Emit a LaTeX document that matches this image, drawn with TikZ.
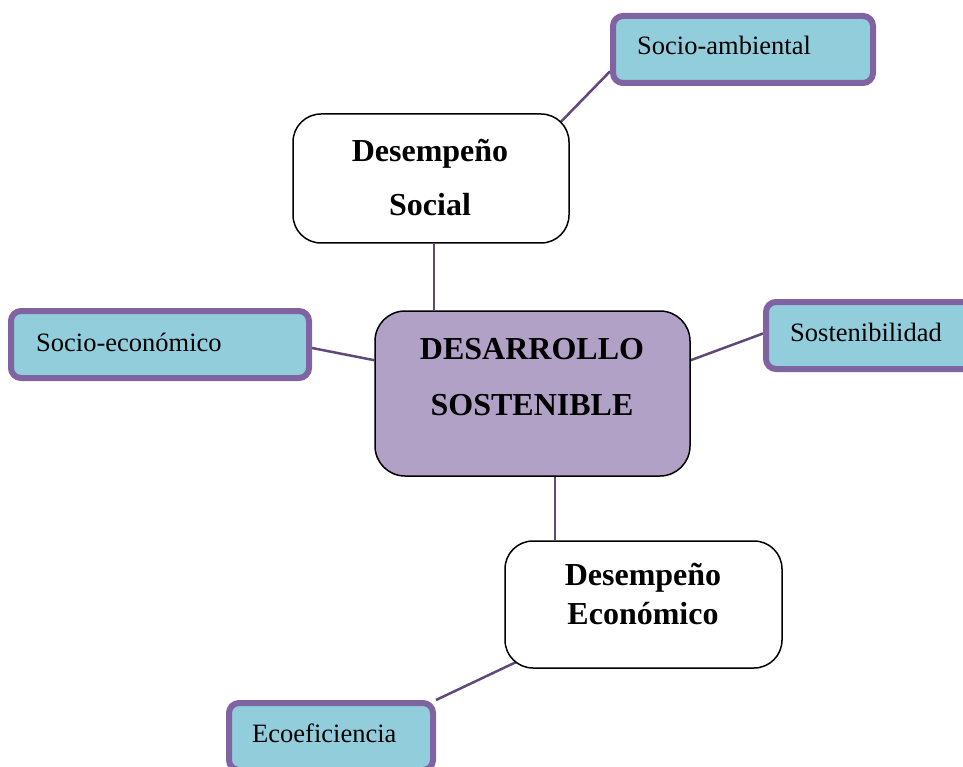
\documentclass[tikz,border=0pt]{standalone}
\usepackage{fontspec}
\setmainfont{Liberation Serif}
\usetikzlibrary{calc,backgrounds}
\definecolor{tealfill}{HTML}{92CDDC}
\definecolor{purpborder}{HTML}{8064A2}
\definecolor{centralfill}{HTML}{B2A1C7}
\definecolor{linkcol}{HTML}{5F497A}
\begin{document}
\begin{tikzpicture}[x=1pt,y=-1pt,
  leaf/.style={draw=purpborder, line width=6pt, fill=tealfill, rounded corners=10pt, inner sep=0pt},
  topic/.style={draw=black, line width=1.5pt, fill=white, rounded corners=28pt, inner sep=0pt},
  core/.style={draw=black, line width=1.5pt, fill=centralfill, rounded corners=30pt, inner sep=0pt},
  leaftext/.style={font=\fontsize{26.5}{30}\selectfont, inner sep=0pt, anchor=base west},
  boldtext/.style={font=\fontsize{32}{36}\selectfont\bfseries, inner sep=0pt, anchor=base},
  link/.style={draw=linkcol, line width=2.5pt}]
\useasboundingbox (0,0) rectangle (963,767);
\clip (0,0) rectangle (963,767);

\node[leaf, minimum width=260pt, minimum height=67pt] (sa) at (743,49.5) {};
\node[leaftext] (saT) at (637,55) {Socio-ambiental};

\node[topic, minimum width=276pt, minimum height=129pt] (ds) at (431,178.5) {};
\node[boldtext] (dsT1) at (430,162) {Desempeño};
\node[boldtext] (dsT2) at (430,216) {Social};

\node[leaf, minimum width=298pt, minimum height=67pt] (se) at (160,344.5) {};
\node[leaftext] (seT) at (36,351) {Socio-económico};

\node[core, minimum width=315pt, minimum height=165pt] (dsost) at (532.5,393.5) {};
\node[boldtext] (cT1) at (532,359) {DESARROLLO};
\node[boldtext] (cT2) at (532,415) {SOSTENIBLE};

\node[leaf, minimum width=260pt, minimum height=67pt] (so) at (896,335.5) {};
\node[leaftext] (soT) at (790,341) {Sostenibilidad};

\node[topic, minimum width=277pt, minimum height=127pt] (de) at (643.5,604.5) {};
\node[boldtext] (deT1) at (643,585) {Desempeño};
\node[boldtext] (deT2) at (643,624) {Económico};

\node[leaf, minimum width=204pt, minimum height=67pt] (ec) at (331,736.5) {};
\node[leaftext] (ecT) at (252,742) {Ecoeficiencia};

\begin{pgfonlayer}{background}
\draw[link] ($(sa.south west)!0.2!(sa.north west)$) -- ($(ds.north east)+(-20,20)$);
\draw[link] ($(ds.south)+(3,0)$) coordinate (dsb) -- (dsb |- dsost.north);
\draw[link] ($(se.east)+(0,3.5)$) -- ($(dsost.north west)!0.3!(dsost.south west)$);
\draw[link] ($(dsost.north east)!0.3!(dsost.south east)$) -- ($(so.west)+(0,-2)$);
\draw[link] ($(dsost.south)+(22.5,0)$) coordinate (dsc) -- (dsc |- de.north);
\draw[link] ($(de.south west)+(40,-20)$) -- (ec.north east);
\end{pgfonlayer}
\end{tikzpicture}
\end{document}
